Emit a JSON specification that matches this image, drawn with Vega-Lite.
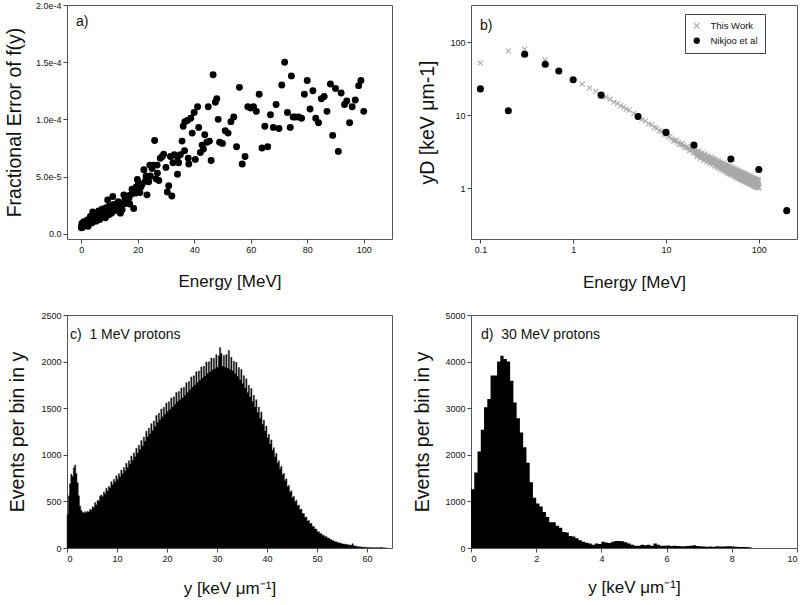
{
  "$schema": "https://vega.github.io/schema/vega-lite/v6.json",
  "autosize": {"type": "pad"},
  "padding": {"left": 3, "top": 0, "right": 0, "bottom": 0},
  "background": "white",
  "columns": 2,
  "spacing": {"row": 76, "column": 79},
  "bounds": "flush",
  "datasets": {
    "a": [
      {"E":100,"v":10.7e-5},{"E":99,"v":13.4e-5},{"E":98.2,"v":12.95e-5},{"E":97,"v":11.7e-5},{"E":95.9,"v":11.1e-5},{"E":95,"v":9.7e-5},{"E":94,"v":11.6e-5},{"E":93.2,"v":11.3e-5},{"E":92,"v":12.3e-5},{"E":91,"v":7.2e-5},{"E":90,"v":12.7e-5},{"E":89,"v":8.6e-5},{"E":88.2,"v":13.1e-5},{"E":87,"v":10.7e-5},{"E":86,"v":12.0e-5},{"E":85,"v":11.8e-5},{"E":84,"v":9.7e-5},{"E":83,"v":10.1e-5},{"E":82,"v":12.5e-5},{"E":81,"v":10.9e-5},{"E":80,"v":13.4e-5},{"E":79,"v":12.2e-5},{"E":78,"v":10.1e-5},{"E":77,"v":10.2e-5},{"E":75.8,"v":10.2e-5},{"E":75,"v":10.2e-5},{"E":74,"v":9.3e-5},{"E":74.4,"v":13.8e-5},{"E":73,"v":10.6e-5},{"E":72,"v":15.0e-5},{"E":71,"v":13.0e-5},{"E":70,"v":9.2e-5},{"E":69,"v":11.3e-5},{"E":68,"v":9.3e-5},{"E":67,"v":10.4e-5},{"E":66,"v":7.6e-5},{"E":65,"v":9.4e-5},{"E":64,"v":7.5e-5},{"E":63,"v":12.2e-5},{"E":62,"v":10.7e-5},{"E":61,"v":11.1e-5},{"E":60,"v":11.0e-5},{"E":59,"v":11.1e-5},{"E":58,"v":6.75e-5},{"E":57,"v":6.1e-5},{"E":56,"v":12.8e-5},{"E":55,"v":7.6e-5},{"E":54,"v":10.2e-5},{"E":53,"v":9.8e-5},{"E":52,"v":8.8e-5},{"E":51,"v":9.0e-5},{"E":50,"v":7.9e-5},{"E":49,"v":8.0e-5},{"E":48.5,"v":10.0e-5},{"E":48,"v":11.8e-5},{"E":47.5,"v":11.5e-5},{"E":46.7,"v":13.9e-5},{"E":46,"v":6.4e-5},{"E":45,"v":11.1e-5},{"E":45.4,"v":8.1e-5},{"E":44.5,"v":8.0e-5},{"E":43.3,"v":7.4e-5},{"E":43.75,"v":8.65e-5},{"E":42.8,"v":7.75e-5},{"E":42.2,"v":7.1e-5},{"E":41.6,"v":9.3e-5},{"E":41.2,"v":11.1e-5},{"E":40.4,"v":6.5e-5},{"E":40,"v":10.6e-5},{"E":39.3,"v":8.8e-5},{"E":38.8,"v":10.1e-5},{"E":38.1,"v":6.1e-5},{"E":37.9,"v":6.6e-5},{"E":37.6,"v":9.9e-5},{"E":36.7,"v":9.8e-5},{"E":36.1,"v":9.4e-5},{"E":35.7,"v":8.1e-5},{"E":36.6,"v":7.25e-5},{"E":35.1,"v":6.9e-5},{"E":34.1,"v":6.7e-5},{"E":34.5,"v":6.2e-5},{"E":34.1,"v":5.2e-5},{"E":33,"v":6.9e-5},{"E":32.5,"v":6.2e-5},{"E":32.1,"v":3.3e-5},{"E":31,"v":4.2e-5},{"E":30.5,"v":3.65e-5},{"E":31.6,"v":6.75e-5},{"E":30,"v":5.8e-5},{"E":29.2,"v":6.95e-5},{"E":28.7,"v":6.75e-5},{"E":28,"v":6.6e-5},{"E":27.5,"v":4.65e-5},{"E":27,"v":5.3e-5},{"E":26.5,"v":4.8e-5},{"E":26,"v":8.15e-5},{"E":26.9,"v":6.0e-5},{"E":25.7,"v":6.0e-5},{"E":25.1,"v":5.7e-5},{"E":24.5,"v":5.05e-5},{"E":24.3,"v":6.0e-5},{"E":23.9,"v":4.55e-5},{"E":23.3,"v":3.4e-5},{"E":23,"v":5.05e-5},{"E":22.2,"v":5.6e-5},{"E":21.6,"v":4.35e-5},{"E":20.8,"v":3.6e-5},{"E":19.9,"v":4.75e-5},{"E":19.2,"v":3.55e-5},{"E":18.6,"v":2.2e-5},{"E":18,"v":3.9e-5},{"E":17.5,"v":3.4e-5},{"E":16.9,"v":3.1e-5},{"E":16.3,"v":2.95e-5},{"E":15.7,"v":2.65e-5},{"E":15.1,"v":3.4e-5},{"E":14.5,"v":2.1e-5},{"E":13.9,"v":1.8e-5},{"E":13.6,"v":2.7e-5},{"E":12.7,"v":2.5e-5},{"E":11.8,"v":2.0e-5},{"E":11.2,"v":3.25e-5},{"E":10.7,"v":1.8e-5},{"E":10.0,"v":2.4e-5},{"E":9.4,"v":2.95e-5},{"E":8.8,"v":1.85e-5},{"E":8.3,"v":2.2e-5},{"E":7.8,"v":1.5e-5},{"E":7.4,"v":2.15e-5},{"E":7.0,"v":1.8e-5},{"E":6.25,"v":2.0e-5},{"E":5.7,"v":1.35e-5},{"E":5.1,"v":1.55e-5},{"E":4.7,"v":1.2e-5},{"E":4.1,"v":1.9e-5},{"E":3.7,"v":1.05e-5},{"E":3.3,"v":1.5e-5},{"E":2.7,"v":0.85e-5},{"E":2.2,"v":1.2e-5},{"E":1.5,"v":0.73e-5},{"E":0.95,"v":1.05e-5},{"E":0.5,"v":0.55e-5},{"E":0.1,"v":0.53e-5},{"E":1.0,"v":0.8e-5},{"E":1.8,"v":1.0e-5},{"E":2.5,"v":0.65e-5},{"E":3.0,"v":1.3e-5},{"E":3.9,"v":0.95e-5},{"E":4.4,"v":1.6e-5},{"E":5.3,"v":1.1e-5},{"E":6.0,"v":1.75e-5},{"E":6.6,"v":1.25e-5},{"E":7.2,"v":1.6e-5},{"E":8.0,"v":2.0e-5},{"E":8.6,"v":1.4e-5},{"E":9.1,"v":2.3e-5},{"E":9.8,"v":1.65e-5},{"E":10.4,"v":2.1e-5},{"E":11.5,"v":2.55e-5},{"E":12.2,"v":2.2e-5},{"E":13.1,"v":2.8e-5},{"E":14.2,"v":2.4e-5},{"E":15.5,"v":3.1e-5},{"E":16.6,"v":3.3e-5},{"E":17.2,"v":2.6e-5},{"E":19.5,"v":4.1e-5},{"E":20.3,"v":4.4e-5},{"E":21.2,"v":4.1e-5},{"E":22.7,"v":4.6e-5},{"E":0.2,"v":0.7e-5},{"E":0.3,"v":0.9e-5},{"E":0.7,"v":0.65e-5}
    ],
    "bT": [
      {"E":0.1,"y":52},{"E":0.2,"y":76},{"E":0.3,"y":80},{"E":0.5,"y":57},
      {"E":1.25,"y":26.6},{"E":1.5,"y":23.5},{"E":1.75,"y":21.2},{"E":2,"y":19.3},{"E":2.25,"y":17.6},{"E":2.5,"y":16.5},{"E":2.75,"y":15.1},{"E":3,"y":14.4},{"E":3.25,"y":13.4},{"E":3.5,"y":12.9},{"E":3.75,"y":12.1},{"E":4,"y":11.7},
      {"E":4.5,"y":10.5},{"E":5,"y":9.7},{"E":5.5,"y":8.7},{"E":6,"y":8.3},{"E":6.5,"y":7.6},{"E":7,"y":7.4},{"E":7.5,"y":6.8},{"E":8,"y":6.6},{"E":8.5,"y":6.1},{"E":9,"y":6.0},{"E":9.5,"y":5.5},{"E":10,"y":5.4},
      {"E":10.5,"y":5.15},{"E":11,"y":5.05},{"E":11.5,"y":4.75},{"E":12,"y":4.45},{"E":12.5,"y":4.48},{"E":13,"y":4.5},{"E":13.5,"y":4.22},{"E":14,"y":3.95},{"E":14.5,"y":4.0},{"E":15,"y":4.05},{"E":15.5,"y":3.8},{"E":16,"y":3.6},{"E":16.5,"y":3.62},{"E":17,"y":3.7},{"E":17.5,"y":3.48},{"E":18,"y":3.28},{"E":18.5,"y":3.35},{"E":19,"y":3.42},{"E":19.5,"y":3.22},{"E":20,"y":3.05},
      {"E":21,"y":3.17},{"E":22,"y":2.84},{"E":23,"y":2.97},{"E":24,"y":2.67},{"E":25,"y":2.83},{"E":26,"y":2.5},{"E":27,"y":2.7},{"E":28,"y":2.38},{"E":29,"y":2.6},{"E":30,"y":2.27},{"E":31,"y":2.52},{"E":32,"y":2.16},{"E":33,"y":2.42},{"E":34,"y":2.06},{"E":35,"y":2.32},{"E":36,"y":1.98},{"E":37,"y":2.25},{"E":38,"y":1.9},{"E":39,"y":2.16},{"E":40,"y":1.84},
      {"E":41,"y":2.1},{"E":42,"y":1.78},{"E":43,"y":2.04},{"E":44,"y":1.72},{"E":45,"y":1.98},{"E":46,"y":1.67},{"E":47,"y":1.92},{"E":48,"y":1.63},{"E":49,"y":1.87},{"E":50,"y":1.6},{"E":51,"y":1.83},{"E":52,"y":1.55},{"E":53,"y":1.79},{"E":54,"y":1.52},{"E":55,"y":1.75},{"E":56,"y":1.48},{"E":57,"y":1.71},{"E":58,"y":1.45},{"E":59,"y":1.67},{"E":60,"y":1.42},
      {"E":61,"y":1.64},{"E":62,"y":1.39},{"E":63,"y":1.61},{"E":64,"y":1.36},{"E":65,"y":1.58},{"E":66,"y":1.33},{"E":67,"y":1.55},{"E":68,"y":1.31},{"E":69,"y":1.52},{"E":70,"y":1.28},{"E":71,"y":1.5},{"E":72,"y":1.26},{"E":73,"y":1.47},{"E":74,"y":1.24},{"E":75,"y":1.44},{"E":76,"y":1.22},{"E":77,"y":1.42},{"E":78,"y":1.2},{"E":79,"y":1.4},{"E":80,"y":1.18},
      {"E":81,"y":1.38},{"E":82,"y":1.16},{"E":83,"y":1.36},{"E":84,"y":1.14},{"E":85,"y":1.34},{"E":86,"y":1.12},{"E":87,"y":1.32},{"E":88,"y":1.1},{"E":89,"y":1.3},{"E":90,"y":1.09},{"E":91,"y":1.28},{"E":92,"y":1.08},{"E":93,"y":1.26},{"E":94,"y":1.06},{"E":95,"y":1.25},{"E":96,"y":1.05},{"E":97,"y":1.23},{"E":98,"y":1.04},{"E":99,"y":1.22},{"E":100,"y":1.03},
      {"E":20.5,"y":3.47},{"E":21.5,"y":2.7},{"E":22.5,"y":3.25},{"E":23.5,"y":2.54},{"E":24.5,"y":3.07},{"E":25.5,"y":2.39},{"E":26.5,"y":2.91},{"E":27.5,"y":2.28},{"E":28.5,"y":2.78},{"E":29.5,"y":2.19},{"E":30.5,"y":2.67},{"E":31.5,"y":2.1},{"E":32.5,"y":2.55},{"E":33.5,"y":2.01},{"E":34.5,"y":2.44},{"E":35.5,"y":1.93},{"E":36.5,"y":2.35},{"E":37.5,"y":1.86},{"E":38.5,"y":2.27},{"E":39.5,"y":1.8},
      {"E":40.5,"y":2.2},{"E":41.5,"y":1.75},{"E":42.5,"y":2.13},{"E":43.5,"y":1.69},{"E":44.5,"y":2.07},{"E":45.5,"y":1.62},{"E":46.5,"y":2.02},{"E":47.5,"y":1.58},{"E":48.5,"y":1.97},{"E":49.5,"y":1.54},{"E":50.5,"y":1.93},{"E":51.5,"y":1.51},{"E":52.5,"y":1.88},{"E":53.5,"y":1.48},{"E":54.5,"y":1.84},{"E":55.5,"y":1.44},{"E":56.5,"y":1.79},{"E":57.5,"y":1.4},{"E":58.5,"y":1.75},{"E":59.5,"y":1.38},
      {"E":60.5,"y":1.71},{"E":61.5,"y":1.35},{"E":62.5,"y":1.68},{"E":63.5,"y":1.32},{"E":64.5,"y":1.65},{"E":65.5,"y":1.3},{"E":66.5,"y":1.61},{"E":67.5,"y":1.28},{"E":68.5,"y":1.59},{"E":69.5,"y":1.25},{"E":70.5,"y":1.56},{"E":71.5,"y":1.23},{"E":72.5,"y":1.53},{"E":73.5,"y":1.21},{"E":74.5,"y":1.5},{"E":75.5,"y":1.19},{"E":76.5,"y":1.48},{"E":77.5,"y":1.17},{"E":78.5,"y":1.46},{"E":79.5,"y":1.15},
      {"E":80.5,"y":1.43},{"E":81.5,"y":1.13},{"E":82.5,"y":1.41},{"E":83.5,"y":1.12},{"E":84.5,"y":1.39},{"E":85.5,"y":1.1},{"E":86.5,"y":1.37},{"E":87.5,"y":1.08},{"E":88.5,"y":1.34},{"E":89.5,"y":1.07},{"E":90.5,"y":1.33},{"E":91.5,"y":1.05},{"E":92.5,"y":1.31},{"E":93.5,"y":1.04},{"E":94.5,"y":1.3},{"E":95.5,"y":1.03},{"E":96.5,"y":1.28},{"E":97.5,"y":1.02},{"E":98.5,"y":1.27},{"E":99.5,"y":1.01},
      {"E":20.25,"y":3.1},{"E":21.25,"y":3.0},{"E":22.25,"y":2.9},{"E":23.25,"y":2.82},{"E":24.25,"y":2.74},{"E":25.25,"y":2.66},{"E":26.25,"y":2.6},{"E":27.25,"y":2.53},{"E":28.25,"y":2.48},{"E":29.25,"y":2.43},{"E":30.25,"y":2.38},{"E":31.25,"y":2.33},{"E":32.25,"y":2.28},{"E":33.25,"y":2.23},{"E":34.25,"y":2.18},{"E":35.25,"y":2.14},{"E":36.25,"y":2.1},{"E":37.25,"y":2.07},{"E":38.25,"y":2.03},{"E":39.25,"y":2.0},
      {"E":40.25,"y":1.96},{"E":41.25,"y":1.94},{"E":42.25,"y":1.9},{"E":43.25,"y":1.88},{"E":44.25,"y":1.85},{"E":45.25,"y":1.8},{"E":46.25,"y":1.8},{"E":47.25,"y":1.76},{"E":48.25,"y":1.76},{"E":49.25,"y":1.71},{"E":50.25,"y":1.72},{"E":51.25,"y":1.68},{"E":52.25,"y":1.68},{"E":53.25,"y":1.64},{"E":54.25,"y":1.64},{"E":55.25,"y":1.6},{"E":56.25,"y":1.6},{"E":57.25,"y":1.56},{"E":58.25,"y":1.56},{"E":59.25,"y":1.53},
      {"E":60.25,"y":1.53},{"E":61.25,"y":1.5},{"E":62.25,"y":1.5},{"E":63.25,"y":1.47},{"E":64.25,"y":1.47},{"E":65.25,"y":1.44},{"E":66.25,"y":1.44},{"E":67.25,"y":1.42},{"E":68.25,"y":1.42},{"E":69.25,"y":1.39},{"E":70.25,"y":1.39},{"E":71.25,"y":1.37},{"E":72.25,"y":1.37},{"E":73.25,"y":1.34},{"E":74.25,"y":1.34},{"E":75.25,"y":1.32},{"E":76.25,"y":1.32},{"E":77.25,"y":1.3},{"E":78.25,"y":1.3},{"E":79.25,"y":1.28},
      {"E":80.25,"y":1.28},{"E":81.25,"y":1.26},{"E":82.25,"y":1.26},{"E":83.25,"y":1.24},{"E":84.25,"y":1.24},{"E":85.25,"y":1.22},{"E":86.25,"y":1.22},{"E":87.25,"y":1.2},{"E":88.25,"y":1.2},{"E":89.25,"y":1.19},{"E":90.25,"y":1.19},{"E":91.25,"y":1.17},{"E":92.25,"y":1.17},{"E":93.25,"y":1.16},{"E":94.25,"y":1.16},{"E":95.25,"y":1.14},{"E":96.25,"y":1.14},{"E":97.25,"y":1.13},{"E":98.25,"y":1.13},{"E":99.25,"y":1.12}
    ],
    "bN": [
      {"E":0.1,"y":22.9},{"E":0.2,"y":11.5},{"E":0.3,"y":68.5},{"E":0.5,"y":50},{"E":0.7,"y":40.4},{"E":1,"y":30.5},{"E":2,"y":18.8},{"E":5,"y":9.6},{"E":10,"y":5.8},{"E":20,"y":3.88},{"E":50,"y":2.5},{"E":100,"y":1.8},{"E":200,"y":0.49}
    ],
    "c": [
      {"x":0,"n":360},{"x":0.25,"n":560},{"x":0.5,"n":690},{"x":0.75,"n":790},{"x":1,"n":770},{"x":1.25,"n":860},{"x":1.5,"n":890},{"x":1.75,"n":800},{"x":2,"n":700},{"x":2.25,"n":560},{"x":2.5,"n":450},{"x":2.75,"n":405},{"x":3,"n":385},{"x":3.25,"n":375},{"x":3.5,"n":390},{"x":3.75,"n":380},{"x":4,"n":395},{"x":4.25,"n":385},{"x":4.5,"n":415},{"x":4.75,"n":405},
      {"x":5,"n":443},{"x":5.25,"n":435},{"x":5.5,"n":488},{"x":5.75,"n":464},{"x":6,"n":510},{"x":6.25,"n":508},{"x":6.5,"n":556},{"x":6.75,"n":570},{"x":7,"n":553},{"x":7.25,"n":602},{"x":7.5,"n":582},{"x":7.75,"n":640},{"x":8,"n":612},{"x":8.25,"n":660},{"x":8.5,"n":645},{"x":8.75,"n":710},{"x":9,"n":680},{"x":9.25,"n":736},{"x":9.5,"n":708},{"x":9.75,"n":775},
      {"x":10,"n":737},{"x":10.25,"n":798},{"x":10.5,"n":766},{"x":10.75,"n":837},{"x":11,"n":796},{"x":11.25,"n":863},{"x":11.5,"n":829},{"x":11.75,"n":908},{"x":12,"n":863},{"x":12.25,"n":937},{"x":12.5,"n":902},{"x":12.75,"n":988},{"x":13,"n":941},{"x":13.25,"n":1020},{"x":13.5,"n":980},{"x":13.75,"n":1071},{"x":14,"n":1018},{"x":14.25,"n":1102},{"x":14.5,"n":1057},{"x":14.75,"n":1154},
      {"x":15,"n":1096},{"x":15.25,"n":1190},{"x":15.5,"n":1145},{"x":15.75,"n":1253},{"x":16,"n":1193},{"x":16.25,"n":1285},{"x":16.5,"n":1227},{"x":16.75,"n":1334},{"x":17,"n":1261},{"x":17.25,"n":1363},{"x":17.5,"n":1305},{"x":17.75,"n":1423},{"x":18,"n":1348},{"x":18.25,"n":1447},{"x":18.5,"n":1377},{"x":18.75,"n":1492},{"x":19,"n":1407},{"x":19.25,"n":1509},{"x":19.5,"n":1436},{"x":19.75,"n":1555},
      {"x":20,"n":1465},{"x":20.25,"n":1569},{"x":20.5,"n":1489},{"x":20.75,"n":1610},{"x":21,"n":1513},{"x":21.25,"n":1622},{"x":21.5,"n":1542},{"x":21.75,"n":1669},{"x":22,"n":1571},{"x":22.25,"n":1679},{"x":22.5,"n":1591},{"x":22.75,"n":1716},{"x":23,"n":1610},{"x":23.25,"n":1725},{"x":23.5,"n":1639},{"x":23.75,"n":1773},{"x":24,"n":1668},{"x":24.25,"n":1787},{"x":24.5,"n":1698},{"x":24.75,"n":1836},
      {"x":25,"n":1727},{"x":25.25,"n":1847},{"x":25.5,"n":1751},{"x":25.75,"n":1891},{"x":26,"n":1775},{"x":26.25,"n":1898},{"x":26.5,"n":1799},{"x":26.75,"n":1943},{"x":27,"n":1824},{"x":27.25,"n":1950},{"x":27.5,"n":1848},{"x":27.75,"n":1995},{"x":28,"n":1872},{"x":28.25,"n":1998},{"x":28.5,"n":1892},{"x":28.75,"n":2038},{"x":29,"n":1911},{"x":29.25,"n":2037},{"x":29.5,"n":1925},{"x":29.75,"n":2073},
      {"x":30,"n":1940},{"x":30.25,"n":2063},{"x":30.5,"n":2150},{"x":30.75,"n":2088},{"x":31,"n":1950},{"x":31.25,"n":2065},{"x":31.5,"n":1940},{"x":31.75,"n":2075},{"x":32,"n":1930},{"x":32.25,"n":2120},{"x":32.5,"n":1915},{"x":32.75,"n":2047},{"x":33,"n":1901},{"x":33.25,"n":2003},{"x":33.5,"n":1872},{"x":33.75,"n":1992},{"x":34,"n":1843},{"x":34.25,"n":1936},{"x":34.5,"n":1804},{"x":34.75,"n":1914},
      {"x":35,"n":1765},{"x":35.25,"n":1849},{"x":35.5,"n":1717},{"x":35.75,"n":1815},{"x":36,"n":1668},{"x":36.25,"n":1746},{"x":36.5,"n":1620},{"x":36.75,"n":1711},{"x":37,"n":1571},{"x":37.25,"n":1638},{"x":37.5,"n":1513},{"x":37.75,"n":1591},{"x":38,"n":1455},{"x":38.25,"n":1512},{"x":38.5,"n":1392},{"x":38.75,"n":1459},{"x":39,"n":1329},{"x":39.25,"n":1373},{"x":39.5,"n":1256},{"x":39.75,"n":1308},
      {"x":40,"n":1183},{"x":40.25,"n":1221},{"x":40.5,"n":1116},{"x":40.75,"n":1160},{"x":41,"n":1048},{"x":41.25,"n":1076},{"x":41.5,"n":980},{"x":41.75,"n":1014},{"x":42,"n":912},{"x":42.25,"n":935},{"x":42.5,"n":849},{"x":42.75,"n":877},{"x":43,"n":786},{"x":43.25,"n":801},{"x":43.5,"n":723},{"x":43.75,"n":742},{"x":44,"n":660},{"x":44.25,"n":670},{"x":44.5,"n":601},{"x":44.75,"n":614},
      {"x":45,"n":543},{"x":45.25,"n":554},{"x":45.5,"n":500},{"x":45.75,"n":513},{"x":46,"n":456},{"x":46.25,"n":461},{"x":46.5,"n":412},{"x":46.75,"n":419},{"x":47,"n":369},{"x":47.25,"n":371},{"x":47.5,"n":330},{"x":47.75,"n":333},{"x":48,"n":291},{"x":48.25,"n":294},{"x":48.5,"n":262},{"x":48.75,"n":265},{"x":49,"n":233},{"x":49.25,"n":232},{"x":49.5,"n":204},{"x":49.75,"n":203},
      {"x":50,"n":175},{"x":50.25,"n":175},{"x":50.5,"n":155},{"x":50.75,"n":156},{"x":51,"n":136},{"x":51.25,"n":137},{"x":51.5,"n":121},{"x":51.75,"n":123},{"x":52,"n":107},{"x":52.25,"n":106},{"x":52.5,"n":92},{"x":52.75,"n":92},{"x":53,"n":78},{"x":53.25,"n":77},{"x":53.5,"n":68},{"x":53.75,"n":68},{"x":54,"n":58},{"x":54.25,"n":58},{"x":54.5,"n":50},{"x":54.75,"n":51},
      {"x":55,"n":44},{"x":55.25,"n":44},{"x":55.5,"n":39},{"x":55.75,"n":40},{"x":56,"n":34},{"x":56.25,"n":34},{"x":56.5,"n":30},{"x":56.75,"n":31},{"x":57,"n":45},{"x":57.25,"n":25},{"x":57.5,"n":22},{"x":57.75,"n":20},{"x":58,"n":15},{"x":58.25,"n":14},{"x":58.5,"n":12},{"x":58.75,"n":11},{"x":59,"n":10},{"x":59.25,"n":9},{"x":59.5,"n":7},{"x":59.75,"n":7},
      {"x":60,"n":6},{"x":60.25,"n":5},{"x":60.5,"n":5},{"x":60.75,"n":4},{"x":61,"n":4},{"x":61.25,"n":3},{"x":61.5,"n":3},{"x":61.75,"n":3},{"x":62,"n":3},{"x":62.25,"n":2},{"x":62.5,"n":2},{"x":62.75,"n":8},{"x":63,"n":2},{"x":63.25,"n":1},{"x":63.5,"n":1},{"x":63.75,"n":1},{"x":64,"n":0}
    ],
    "d": [
      {"x":0,"n":1260},{"x":0.1,"n":1620},{"x":0.2,"n":2070},{"x":0.3,"n":2535},{"x":0.4,"n":3023},{"x":0.5,"n":3200},{"x":0.6,"n":3700},{"x":0.7,"n":3700},{"x":0.8,"n":4000},{"x":0.9,"n":4125},
      {"x":1,"n":4055},{"x":1.1,"n":4000},{"x":1.2,"n":3590},{"x":1.3,"n":3125},{"x":1.4,"n":2785},{"x":1.5,"n":2480},{"x":1.6,"n":2160},{"x":1.7,"n":1830},{"x":1.8,"n":1410},{"x":1.9,"n":1080},
      {"x":2,"n":955},{"x":2.1,"n":890},{"x":2.2,"n":775},{"x":2.3,"n":665},{"x":2.4,"n":550},{"x":2.5,"n":550},{"x":2.6,"n":475},{"x":2.7,"n":435},{"x":2.8,"n":345},{"x":2.9,"n":330},
      {"x":3,"n":260},{"x":3.1,"n":245},{"x":3.2,"n":210},{"x":3.3,"n":165},{"x":3.4,"n":135},{"x":3.5,"n":115},{"x":3.6,"n":95},{"x":3.7,"n":72},{"x":3.8,"n":95},{"x":3.9,"n":85},
      {"x":4,"n":135},{"x":4.1,"n":120},{"x":4.2,"n":105},{"x":4.3,"n":135},{"x":4.4,"n":150},{"x":4.5,"n":150},{"x":4.6,"n":145},{"x":4.7,"n":125},{"x":4.8,"n":95},{"x":4.9,"n":72},
      {"x":5,"n":50},{"x":5.1,"n":50},{"x":5.2,"n":70},{"x":5.3,"n":57},{"x":5.4,"n":70},{"x":5.5,"n":50},{"x":5.6,"n":95},{"x":5.7,"n":70},{"x":5.8,"n":50},{"x":5.9,"n":50},
      {"x":6,"n":55},{"x":6.1,"n":45},{"x":6.2,"n":50},{"x":6.3,"n":45},{"x":6.4,"n":35},{"x":6.5,"n":35},{"x":6.6,"n":45},{"x":6.7,"n":50},{"x":6.8,"n":60},{"x":6.9,"n":45},
      {"x":7,"n":35},{"x":7.1,"n":30},{"x":7.2,"n":25},{"x":7.3,"n":30},{"x":7.4,"n":25},{"x":7.5,"n":35},{"x":7.6,"n":30},{"x":7.7,"n":30},{"x":7.8,"n":35},{"x":7.9,"n":40},
      {"x":8,"n":30},{"x":8.1,"n":25},{"x":8.2,"n":20},{"x":8.3,"n":20},{"x":8.4,"n":20},{"x":8.5,"n":15},{"x":8.6,"n":0}
    ]
  },
  "concat": [
    {
      "width": 325, "height": 234,
      "title": {"text": "a)", "anchor": "start", "frame": "group", "baseline": "middle", "offset": 0, "dx": 9, "dy": 35},
      "data": {"name": "a"},
      "mark": {"type": "point", "filled": true, "shape": "circle", "size": 48, "color": "black", "opacity": 1},
      "encoding": {
        "x": {"field": "E", "type": "quantitative", "scale": {"domain": [-5, 110], "nice": false, "zero": false},
              "axis": {"values": [0, 20, 40, 60, 80, 100], "title": "Energy [MeV]", "titleY": 47}},
        "y": {"field": "v", "type": "quantitative", "scale": {"domain": [-0.0000046, 0.0002], "nice": false, "zero": false},
              "axis": {"values": [0, 0.00005, 0.0001, 0.00015, 0.0002], "labelExpr": "datum.value == 0 ? '0.0' : format(datum.value, '.1e')", "title": "Fractional Error of f(y)", "titleX": -47}}
      }
    },
    {
      "width": 326, "height": 234,
      "title": {"text": "b)", "anchor": "start", "frame": "group", "baseline": "middle", "offset": 0, "dx": 9, "dy": 35},
      "layer": [
        {
          "data": {"name": "bT"},
          "mark": {"type": "point", "filled": true, "opacity": 1, "size": 34},
          "encoding": {
            "x": {"field": "E", "type": "quantitative"},
            "y": {"field": "y", "type": "quantitative"},
            "color": {"datum": "This Work"},
            "shape": {"datum": "This Work"}
          }
        },
        {
          "data": {"name": "bN"},
          "mark": {"type": "point", "filled": true, "opacity": 1, "size": 50},
          "encoding": {
            "x": {"field": "E", "type": "quantitative"},
            "y": {"field": "y", "type": "quantitative"},
            "color": {"datum": "Nikjoo et al"},
            "shape": {"datum": "Nikjoo et al"}
          }
        }
      ],
      "encoding": {
        "x": {"field": "E", "type": "quantitative", "scale": {"type": "log", "domain": [0.0792, 258], "nice": false},
              "axis": {"values": [0.1, 1, 10, 100], "format": "~g", "title": "Energy [MeV]", "titleY": 48}},
        "y": {"field": "y", "type": "quantitative", "scale": {"type": "log", "domain": [0.2, 324], "nice": false},
              "axis": {"values": [1, 10, 100], "format": "~g", "title": "yD [keV μm-1]", "titleX": -38}},
        "color": {"type": "nominal", "scale": {"domain": ["This Work", "Nikjoo et al"], "range": ["#a9a9a9", "black"]},
                  "legend": {"title": null, "orient": "none", "legendX": 618, "legendY": 9, "strokeColor": "#444", "fillColor": "white", "padding": 7, "labelFontSize": 9.5, "labelColor": "#111", "symbolSize": 40, "rowPadding": 4, "labelOffset": 9}},
        "shape": {"type": "nominal", "scale": {"domain": ["This Work", "Nikjoo et al"], "range": ["M-1,-0.75L-0.75,-1L0,-0.25L0.75,-1L1,-0.75L0.25,0L1,0.75L0.75,1L0,0.25L-0.75,1L-1,0.75L-0.25,0Z", "circle"]}, "legend": null}
      }
    },
    {
      "width": 325, "height": 233,
      "title": {"text": "c)\u00a0 1 MeV protons", "anchor": "start", "frame": "group", "baseline": "middle", "offset": 0, "dx": 3, "dy": 38},
      "data": {"name": "c"},
      "mark": {"type": "area", "interpolate": "step-after", "color": "black", "stroke": "#333", "strokeWidth": 0.5},
      "encoding": {
        "x": {"field": "x", "type": "quantitative", "scale": {"domain": [0, 65], "nice": false},
              "axis": {"values": [0, 10, 20, 30, 40, 50, 60], "format": "d", "title": "y [keV μm⁻¹]", "titleY": 45}},
        "y": {"field": "n", "type": "quantitative", "scale": {"domain": [0, 2500], "nice": false},
              "axis": {"values": [0, 500, 1000, 1500, 2000, 2500], "format": "d", "title": "Events per bin in y", "titleX": -44}}
      }
    },
    {
      "width": 326, "height": 233,
      "title": {"text": "d)\u00a0 30 MeV protons", "anchor": "start", "frame": "group", "baseline": "middle", "offset": 0, "dx": 10, "dy": 38},
      "data": {"name": "d"},
      "mark": {"type": "area", "interpolate": "step-after", "color": "black"},
      "encoding": {
        "x": {"field": "x", "type": "quantitative", "scale": {"domain": [0, 10], "nice": false},
              "axis": {"values": [0, 2, 4, 6, 8, 10], "format": "d", "title": "y [keV μm⁻¹]", "titleY": 44}},
        "y": {"field": "n", "type": "quantitative", "scale": {"domain": [0, 5000], "nice": false},
              "axis": {"values": [0, 1000, 2000, 3000, 4000, 5000], "format": "d", "title": "Events per bin in y", "titleX": -43}}
      }
    }
  ],
  "config": {
    "font": "Liberation Sans",
    "view": {"stroke": "#555", "strokeWidth": 1},
    "axis": {"domain": false, "grid": false, "ticks": true, "tickColor": "#444", "tickSize": 4, "labelFontSize": 9, "labelColor": "#111", "labelPadding": 2, "titleFontWeight": "normal", "titleColor": "#111"},
    "axisX": {"titleFontSize": 17, "titleBaseline": "alphabetic"},
    "axisY": {"titleFontSize": 19.5, "titleBaseline": "alphabetic"},
    "title": {"fontSize": 14, "fontWeight": "normal", "color": "#111"}
  }
}
